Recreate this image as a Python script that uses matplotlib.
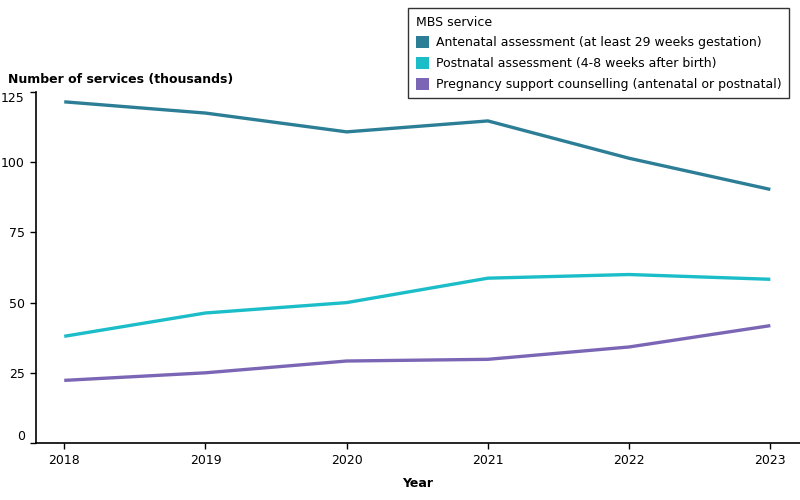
import matplotlib
matplotlib.use("Agg")
import matplotlib.pyplot as plt
from matplotlib.patches import Patch

years = [2018, 2019, 2020, 2021, 2022, 2023]
antenatal = [121.5, 117.5, 110.8, 114.7, 101.4, 90.3]
postnatal = [38.0, 46.3, 50.0, 58.7, 60.0, 58.3]
counselling = [22.3, 25.0, 29.2, 29.8, 34.2, 41.8]
series_names = [
    "Antenatal assessment (at least 29 weeks gestation)",
    "Postnatal assessment (4-8 weeks after birth)",
    "Pregnancy support counselling (antenatal or postnatal)",
]
colors = ["#2C7E96", "#1BBDC8", "#7B66B6"]
y_ticks = [0, 25, 50, 75, 100, 125]

plt.rcParams["font.family"] = ["DejaVu Sans"]

fig = plt.figure(figsize=(8, 5), dpi=100)
ax = fig.add_axes([0.045, 0.114, 0.955, 0.702])

for vals, c in zip([antenatal, postnatal, counselling], colors):
    ax.plot(years, vals, color=c, linewidth=2.4, solid_capstyle="butt")

ax.set_xlim(2017.8, 2023.21)
ax.set_ylim(0, 125)
ax.set_xticks(years)
ax.set_xticklabels([str(y) for y in years], fontsize=9, fontweight="medium")
ax.set_yticks(y_ticks)
ax.set_yticklabels([str(v) for v in y_ticks], fontsize=9, fontweight="medium")
ax.tick_params(axis="both", length=4, width=1, color="black", pad=4)
# end labels sit inside the axis range, like the reference
ylabels = ax.get_yticklabels()
ylabels[0].set_va("bottom")
ylabels[-1].set_va("top")

for s in ["top", "right"]:
    ax.spines[s].set_visible(False)
for s in ["left", "bottom"]:
    ax.spines[s].set_linewidth(1.2)

ax.set_xlabel("Year", fontsize=9, fontweight="bold", labelpad=7)
fig.text(0.01, 0.842, "Number of services (thousands)", fontsize=9,
         fontweight="bold", ha="left", va="center")

handles = [Patch(facecolor=c, edgecolor="none") for c in colors]
leg = fig.legend(handles, series_names, title="MBS service", loc="upper left",
                 bbox_to_anchor=(0.51, 0.984), frameon=True, fontsize=9,
                 title_fontsize=9, handlelength=1.1, handleheight=1.1,
                 handletextpad=0.5, labelspacing=0.6, borderpad=0.6,
                 borderaxespad=0, fancybox=False, alignment="left")
leg.get_frame().set_edgecolor("black")
leg.get_frame().set_linewidth(1.0)

fig.savefig("out.png", dpi=100)
